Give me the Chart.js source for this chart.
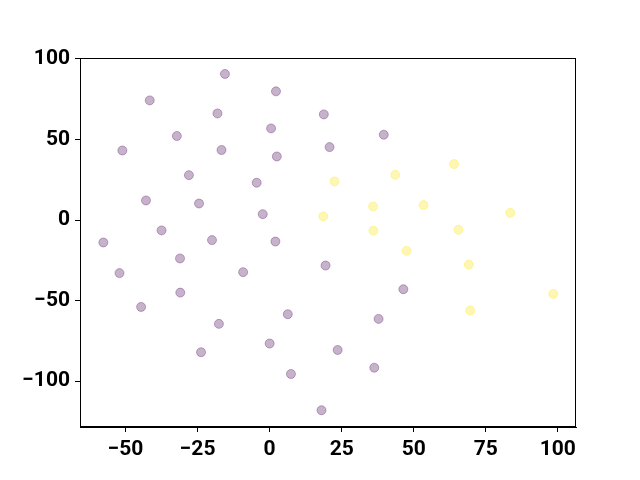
<!DOCTYPE html>
<html>
<head>
<meta charset="utf-8">
<script src="https://cdn.jsdelivr.net/npm/chart.js@4/dist/chart.umd.min.js"></script>
<style>
  html, body { margin: 0; padding: 0; background: #fff; }
  #wrap { width: 640px; height: 480px; }
</style>
</head>
<body>
<div id="wrap"><canvas id="scatter"></canvas></div>
<script>
// cluster 0 (purple)
const purpleX = [-15.5, 2.2, -41.6, -18.1, 18.8, -32.2, 0.5, -51.1, -16.7, 2.5, 20.8, -28.0, -4.5, -42.9, -24.5, -2.4, 39.6,
                 -57.7, -37.5, -20.0, 2.0, -31.1, -52.1, -9.2, 19.4, -31.0, -44.6, -17.6, 6.3, 0.0, -23.8, 7.4, 18.0,
                 46.4, 37.8, 23.6, 36.3];
const purpleY = [90.7, 79.9, 74.3, 66.2, 65.6, 52.2, 56.9, 43.2, 43.5, 39.5, 45.3, 27.9, 23.2, 12.2, 10.3, 3.7, 53.0,
                 -13.9, -6.4, -12.4, -13.3, -23.8, -32.9, -32.3, -28.2, -45.0, -53.9, -64.4, -58.4, -76.6, -82.0, -95.5, -118.0,
                 -42.9, -61.3, -80.6, -91.6];
// cluster 1 (yellow)
const yellowX = [64.0, 43.6, 22.5, 53.4, 35.9, 83.5, 18.6, 36.0, 65.5, 47.5, 69.1, 98.4, 69.6];
const yellowY = [34.8, 28.1, 24.0, 9.3, 8.5, 4.5, 2.3, -6.6, -6.0, -19.1, -27.6, -45.8, -56.1];

const xTicks = [-50, -25, 0, 25, 50, 75, 100];
const yTicks = [-100, -50, 0, 50, 100];

function toPoints(xs, ys) {
    return xs.map((x, i) => ({ x: x, y: ys[i] }));
}

// real minus sign like matplotlib
function fmt(v) {
    return v < 0 ? "\u2212" + Math.abs(v) : String(v);
}

// box around the plot area (matplotlib style spines)
const frame = {
    id: "frame",
    afterDraw(chart) {
        const a = chart.chartArea;
        const ctx = chart.ctx;
        ctx.save();
        ctx.strokeStyle = "#000";
        ctx.lineWidth = 1;
        ctx.strokeRect(a.left + 0.5, a.top + 0.5, a.right - a.left - 1, a.bottom - a.top - 1);
        ctx.restore();
    }
};

const tickFont = { family: "Roboto", size: 21, weight: "bold" };

new Chart(document.getElementById("scatter").getContext("2d"), {
    type: "scatter",
    data: {
        datasets: [{
            data: toPoints(purpleX, purpleY),
            backgroundColor: "rgba(68,1,84,0.3)",
            borderColor: "rgba(68,1,84,0.3)",
            borderWidth: 1,
            pointRadius: 4.5
        }, {
            data: toPoints(yellowX, yellowY),
            backgroundColor: "rgba(253,231,37,0.35)",
            borderColor: "rgba(253,231,37,0.35)",
            borderWidth: 1,
            pointRadius: 4.5
        }]
    },
    options: {
        responsive: true,
        maintainAspectRatio: false,
        animation: false,
        layout: { padding: { top: 58, right: 64, bottom: 0, left: 0 } },
        plugins: {
            legend: { display: false },
            tooltip: { enabled: false }
        },
        scales: {
            x: {
                type: "linear",
                min: -65.8,
                max: 106.3,
                afterBuildTicks: s => { s.ticks = xTicks.map(v => ({ value: v })); },
                afterFit: s => { s.height = 53; },
                grid: { drawOnChartArea: false, color: "#000", tickLength: 5, tickWidth: 1 },
                border: { color: "#000", width: 1 },
                ticks: { color: "#000", font: tickFont, padding: 5, maxRotation: 0, callback: fmt }
            },
            y: {
                type: "linear",
                min: -128.4,
                max: 100.6,
                afterBuildTicks: s => { s.ticks = yTicks.map(v => ({ value: v })); },
                afterFit: s => { s.width = 80; },
                grid: { drawOnChartArea: false, color: "#000", tickLength: 5, tickWidth: 1 },
                border: { color: "#000", width: 1 },
                ticks: { color: "#000", font: tickFont, padding: 5, callback: fmt }
            }
        }
    },
    plugins: [frame]
});
</script>
</body>
</html>
